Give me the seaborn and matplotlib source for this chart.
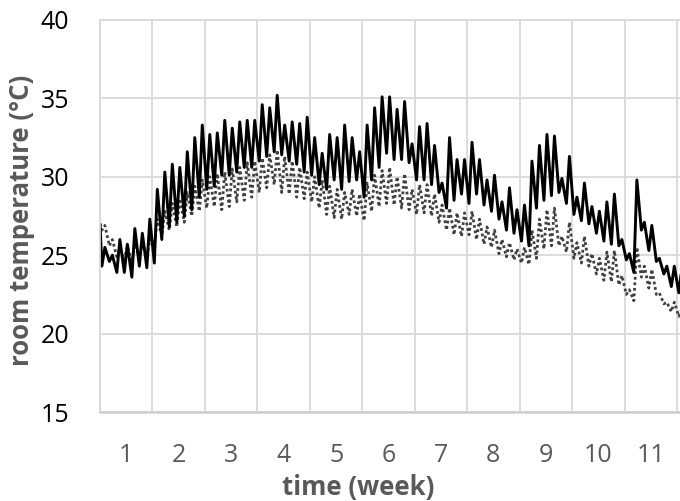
import matplotlib
matplotlib.use("Agg")
import matplotlib.pyplot as plt
import seaborn as sns
import pandas as pd

# --- values: daily minimum / maximum room temperature (°C), day 0..77 ---
start_temp = 27.0

solid_min = [24.3, 24.6, 23.9, 23.9, 23.6, 24.3, 24.2,
             24.5, 26.0, 26.8, 27.1, 27.5, 27.9, 28.7,
             29.2, 29.4, 30.1, 30.1, 30.3, 30.6, 30.6,
             31.0, 31.3, 31.6, 31.4, 31.0, 30.8, 30.3,
             30.1, 29.5, 29.2, 29.8, 29.2, 29.7, 29.8,
             28.7, 29.8, 30.6, 31.5, 31.1, 31.1, 30.9,
             29.8, 29.8, 29.5, 29.0, 28.0, 28.5, 28.9,
             28.3, 28.9, 28.2, 27.8, 27.3, 26.6, 26.4,
             25.9, 25.6, 28.0, 28.5, 28.8, 29.0, 28.3,
             27.6, 27.2, 27.0, 26.4, 25.9, 25.7, 25.6,
             24.7, 23.9, 26.6, 25.3, 24.6, 23.8, 23.0,
             22.6]
solid_max = [25.5, 25.0, 26.0, 25.7, 26.7, 26.4, 27.3,
             29.2, 30.3, 30.8, 30.6, 31.6, 32.5, 33.3,
             32.7, 32.8, 33.6, 33.1, 33.5, 33.6, 33.6,
             34.6, 34.4, 35.2, 33.3, 33.5, 33.4, 33.8,
             32.5, 31.5, 32.7, 32.5, 33.3, 32.5, 31.6,
             33.3, 34.4, 35.1, 35.1, 34.3, 34.8, 32.1,
             33.2, 33.4, 32.0, 29.6, 32.5, 31.1, 31.1,
             32.2, 31.1, 29.8, 30.1, 28.4, 29.3, 27.9,
             28.2, 31.0, 32.0, 32.7, 32.6, 29.9, 31.3,
             28.7, 29.6, 28.1, 27.8, 28.4, 28.9, 26.0,
             25.1, 29.8, 27.1, 26.9, 24.8, 24.3, 24.3,
             24.2]

dotted_min = [26.6, 25.6, 24.9, 24.7, 24.6, 24.8, 24.9,
              25.6, 26.2, 26.6, 26.8, 27.1, 27.5, 27.8,
              28.0, 28.1, 27.9, 28.1, 28.4, 28.5, 28.7,
              29.0, 29.3, 29.5, 29.0, 28.9, 28.7, 28.6,
              28.4, 28.0, 27.6, 27.4, 27.3, 27.6, 27.5,
              27.2, 27.8, 28.1, 28.3, 28.2, 28.0, 27.9,
              27.6, 27.7, 27.5, 27.1, 26.6, 26.3, 26.2,
              26.3, 26.0, 25.7, 25.5, 25.1, 24.9, 24.7,
              24.5, 24.4, 24.8, 25.4, 25.6, 25.6, 25.2,
              24.8, 24.5, 24.3, 23.8, 23.4, 23.3, 23.1,
              22.5, 22.1, 23.6, 22.9, 22.5, 21.9, 21.4,
              21.1]
dotted_max = [26.9, 26.0, 25.4, 25.6, 25.7, 25.8, 26.0,
              27.3, 27.8, 28.3, 28.6, 29.0, 29.4, 29.8,
              30.0, 30.2, 30.3, 30.5, 30.6, 30.9, 31.0,
              31.2, 31.4, 31.7, 31.3, 31.0, 30.6, 30.3,
              30.0, 29.8, 29.4, 29.2, 29.0, 29.2, 28.9,
              29.6, 30.1, 30.4, 30.6, 30.0, 30.2, 29.2,
              29.5, 29.5, 28.9, 28.2, 28.0, 27.7, 27.7,
              27.8, 27.3, 26.8, 26.6, 26.0, 25.8, 25.4,
              25.5, 26.6, 27.3, 27.9, 28.0, 26.2, 27.1,
              25.8, 26.2, 25.1, 24.8, 25.2, 25.3, 23.7,
              22.8, 25.5, 24.3, 24.1, 22.6, 22.0, 22.0,
              21.6]

week_labels = [str(w) for w in range(1, 12)]
y_ticks = [15, 20, 25, 30, 35, 40]


def to_frame(mins, maxs):
    # morning minimum and afternoon maximum of each day
    t, v = [0.0], [start_temp]
    for d, (lo, hi) in enumerate(zip(mins, maxs)):
        t += [d + 0.25, d + 0.65]
        v += [lo, hi]
    return pd.DataFrame({"week": [x / 7 for x in t], "temp": v})


solid = to_frame(solid_min, solid_max)
dotted = to_frame(dotted_min, dotted_max)

sns.set_style("white")
plt.rcParams["font.family"] = ["Open Sans", "DejaVu Sans"]

fig = plt.figure(figsize=(6.8, 5.01), dpi=100)
ax = fig.add_axes([100 / 680, 89 / 501, 580 / 680, 392 / 501])

sns.lineplot(data=dotted, x="week", y="temp", ax=ax, estimator=None,
             color="#404040", linewidth=2.0, linestyle=(0, (1, 1)))
sns.lineplot(data=solid, x="week", y="temp", ax=ax, estimator=None,
             color="black", linewidth=2.1)

ax.set_xlim(0, 580 / 52.45)
ax.set_ylim(15, 40)
ax.set_yticks(y_ticks)
ax.set_xticks(range(12))
ax.set_xticklabels([])
ax.set_xticks([w - 0.5 for w in range(1, 12)], minor=True)
ax.set_xticklabels(week_labels, minor=True)

ax.grid(which="major", color="#d9d9d9", linewidth=1.3)
ax.tick_params(axis="x", which="both", length=0, pad=22, labelsize=18, labelcolor="#595959")
ax.tick_params(axis="y", length=0, pad=22, labelsize=18, labelcolor="black")

for side in ["top", "left"]:
    ax.spines[side].set_visible(True)
    ax.spines[side].set_color("#d9d9d9")
    ax.spines[side].set_linewidth(1.3)
ax.spines["right"].set_visible(False)
ax.spines["bottom"].set_color("#cfcfcf")
ax.spines["bottom"].set_linewidth(1.8)

ax.set_xlabel("time (week)", fontsize=18.5, fontweight="bold", color="#595959")
ax.set_ylabel("room temperature (°C)", fontsize=18.5, fontweight="bold", color="#595959")
ax.xaxis.label.set_va("center")
ax.yaxis.label.set_va("center")
ax.xaxis.set_label_coords((358 - 100) / 580, (412 - 487) / 392)
ax.yaxis.set_label_coords((22 - 100) / 580, (412 - 220) / 392)

fig.savefig("out.png", dpi=100)
